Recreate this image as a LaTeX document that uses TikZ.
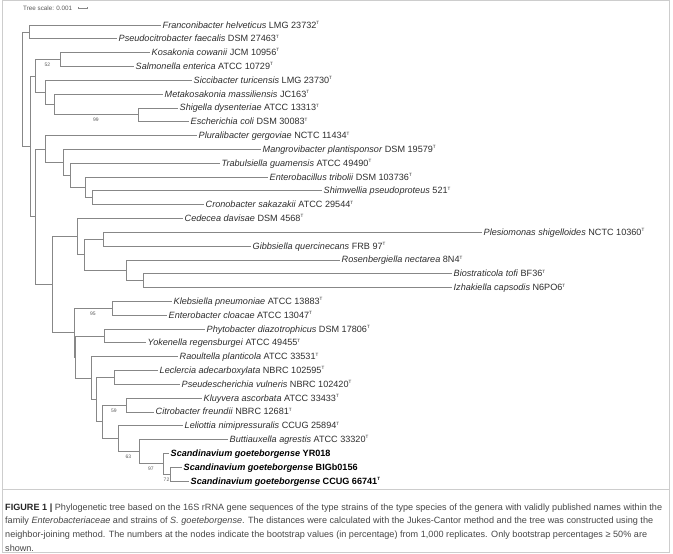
\documentclass[tikz,border=0pt]{standalone}
\usepackage{fontspec}
\setmainfont{Liberation Sans}
\newfontfamily\capfont{Liberation Sans}
\definecolor{treegray}{RGB}{135,135,135}
\definecolor{leafcol}{RGB}{45,45,45}
\definecolor{bscol}{RGB}{90,90,90}
\definecolor{framegray}{RGB}{205,205,205}
\definecolor{capcol}{RGB}{70,70,70}
\newcommand\lblfont{\fontsize{9.1}{10}\selectfont}
\newcommand\bsfont{\fontsize{5}{6}\selectfont}
\newcommand\capsize{\capfont\fontsize{9.1}{10}\selectfont}
\newcommand\tsup{\raisebox{3.6pt}{\fontsize{4.6}{5}\selectfont T}}
\newcommand\spn[2]{\textit{#1} #2}
\newcommand\bspn[2]{\textbf{\textit{#1} #2}}
\begin{document}
\begin{tikzpicture}[x=1pt,y=-1pt,
  br/.style={draw=treegray, line width=0.8pt},
  leaf/.style={anchor=west, inner xsep=1.5pt, inner ysep=0pt, text height=7pt, text depth=1pt, font=\lblfont, text=leafcol},
  bs/.style={font=\bsfont, text=bscol, inner sep=0pt},
  captext/.style={anchor=west, inner sep=0pt, font=\capsize, text=capcol},
  framebox/.style={draw=framegray, line width=0.8pt}]
\useasboundingbox (0,0) rectangle (673,554);
\draw[framebox] (2.5,0.8) rectangle (669.5,552.5);
\draw[framebox] (2.5,489) -- (669.5,489);

% tree scale
\node[anchor=west, inner sep=0pt, font=\fontsize{6.3}{7}\selectfont, text=bscol] (ts) at (23,8) {Tree scale: 0.001};
\coordinate (sb1) at (78,8);
\coordinate (sb2) at (87,8);
\draw[br, line width=0.5pt] (sb1) -- (sb2);
\draw[br, line width=0.5pt] ([yshift=-1.2pt]sb1) -- ([yshift=1.2pt]sb1);
\draw[br, line width=0.5pt] ([yshift=-1.2pt]sb2) -- ([yshift=1.2pt]sb2);

% internal nodes
\coordinate (root) at (22,89.15);
\coordinate (FP) at (29,31.9);
\coordinate (X) at (30,146.4);
\coordinate (A) at (35,75.97);
\coordinate (B) at (60,59.55);
\coordinate (C) at (45,92.4);
\coordinate (D) at (54,104.45);
\coordinate (E) at (138,114.8);
\coordinate (F) at (35,216.8);
\coordinate (G) at (45,148.97);
\coordinate (I) at (63,162.35);
\coordinate (J) at (70,175.3);
\coordinate (K) at (85,187.4);
\coordinate (L) at (92,197.75);
\coordinate (H) at (52,284.6);
\coordinate (M) at (77,236.6);
\coordinate (O) at (84,254.75);
\coordinate (P) at (103,239.2);
\coordinate (Q) at (126,270.3);
\coordinate (R) at (143,280.65);
\coordinate (N) at (74,332.65);
\coordinate (S) at (112,308.3);
\coordinate (Y) at (75.5,357);
\coordinate (T) at (104,335.9);
\coordinate (U) at (91,378.1);
\coordinate (V) at (96,399.6);
\coordinate (W) at (114,377.4);
\coordinate (Z) at (102,421.8);
\coordinate (a) at (126,405);
\coordinate (b) at (118,438.65);
\coordinate (c) at (139,451.6);
\coordinate (d) at (163,463.75);
\coordinate (e) at (170,474.1);

% leaves
\node[leaf] (l1) at (161,25.0) {\spn{Franconibacter helveticus}{LMG 23732\tsup}};
\node[leaf] (l2) at (117,38.8) {\spn{Pseudocitrobacter faecalis}{DSM 27463\tsup}};
\node[leaf] (l3) at (150,52.6) {\spn{Kosakonia cowanii}{JCM 10956\tsup}};
\node[leaf] (l4) at (134,66.5) {\spn{Salmonella enterica}{ATCC 10729\tsup}};
\node[leaf] (l5) at (192,80.3) {\spn{Siccibacter turicensis}{LMG 23730\tsup}};
\node[leaf] (l6) at (163,94.1) {\spn{Metakosakonia massiliensis}{JC163\tsup}};
\node[leaf] (l7) at (178,107.9) {\spn{Shigella dysenteriae}{ATCC 13313\tsup}};
\node[leaf] (l8) at (189,121.7) {\spn{Escherichia coli}{DSM 30083\tsup}};
\node[leaf] (l9) at (197,135.6) {\spn{Pluralibacter gergoviae}{NCTC 11434\tsup}};
\node[leaf] (l10) at (261,149.4) {\spn{Mangrovibacter plantisponsor}{DSM 19579\tsup}};
\node[leaf] (l11) at (220,163.2) {\spn{Trabulsiella guamensis}{ATCC 49490\tsup}};
\node[leaf] (l12) at (268,177.0) {\spn{Enterobacillus tribolii}{DSM 103736\tsup}};
\node[leaf] (l13) at (322,190.8) {\spn{Shimwellia pseudoproteus}{521\tsup}};
\node[leaf] (l14) at (204,204.7) {\spn{Cronobacter sakazakii}{ATCC 29544\tsup}};
\node[leaf] (l15) at (183,218.5) {\spn{Cedecea davisae}{DSM 4568\tsup}};
\node[leaf] (l16) at (482,232.3) {\spn{Plesiomonas shigelloides}{NCTC 10360\tsup}};
\node[leaf] (l17) at (251,246.1) {\spn{Gibbsiella quercinecans}{FRB 97\tsup}};
\node[leaf] (l18) at (340,259.9) {\spn{Rosenbergiella nectarea}{8N4\tsup}};
\node[leaf] (l19) at (452,273.7) {\spn{Biostraticola tofi}{BF36\tsup}};
\node[leaf] (l20) at (452,287.6) {\spn{Izhakiella capsodis}{N6PO6\tsup}};
\node[leaf] (l21) at (172,301.4) {\spn{Klebsiella pneumoniae}{ATCC 13883\tsup}};
\node[leaf] (l22) at (167,315.2) {\spn{Enterobacter cloacae}{ATCC 13047\tsup}};
\node[leaf] (l23) at (205,329.0) {\spn{Phytobacter diazotrophicus}{DSM 17806\tsup}};
\node[leaf] (l24) at (146,342.8) {\spn{Yokenella regensburgei}{ATCC 49455\tsup}};
\node[leaf] (l25) at (178,356.6) {\spn{Raoultella planticola}{ATCC 33531\tsup}};
\node[leaf] (l26) at (158,370.5) {\spn{Leclercia adecarboxylata}{NBRC 102595\tsup}};
\node[leaf] (l27) at (180,384.3) {\spn{Pseudescherichia vulneris}{NBRC 102420\tsup}};
\node[leaf] (l28) at (202,398.1) {\spn{Kluyvera ascorbata}{ATCC 33433\tsup}};
\node[leaf] (l29) at (154,411.9) {\spn{Citrobacter freundii}{NBRC 12681\tsup}};
\node[leaf] (l30) at (183,425.7) {\spn{Leliottia nimipressuralis}{CCUG 25894\tsup}};
\node[leaf] (l31) at (228,439.5) {\spn{Buttiauxella agrestis}{ATCC 33320\tsup}};
\node[leaf, text=black] (l32) at (169,453.4) {\bspn{Scandinavium goeteborgense}{YR018}};
\node[leaf, text=black] (l33) at (182,467.2) {\bspn{Scandinavium goeteborgense}{BIGb0156}};
\node[leaf, text=black] (l34) at (189,481.0) {\bspn{Scandinavium goeteborgense}{CCUG 66741\tsup}};

% branches
\draw[br] (root) |- (FP);
\draw[br] (root) |- (X);
\draw[br] (FP) |- (l1.west);
\draw[br] (FP) |- (l2.west);
\draw[br] (X) |- (A);
\draw[br] (X) |- (F);
\draw[br] (A) |- (B);
\draw[br] (A) |- (C);
\draw[br] (B) |- (l3.west);
\draw[br] (B) |- (l4.west);
\draw[br] (C) |- (l5.west);
\draw[br] (C) |- (D);
\draw[br] (D) |- (l6.west);
\draw[br] (D) |- (E);
\draw[br] (E) |- (l7.west);
\draw[br] (E) |- (l8.west);
\draw[br] (F) |- (G);
\draw[br] (F) |- (H);
\draw[br] (G) |- (l9.west);
\draw[br] (G) |- (I);
\draw[br] (I) |- (l10.west);
\draw[br] (I) |- (J);
\draw[br] (J) |- (l11.west);
\draw[br] (J) |- (K);
\draw[br] (K) |- (l12.west);
\draw[br] (K) |- (L);
\draw[br] (L) |- (l13.west);
\draw[br] (L) |- (l14.west);
\draw[br] (H) |- (M);
\draw[br] (H) |- (N);
\draw[br] (M) |- (l15.west);
\draw[br] (M) |- (O);
\draw[br] (O) |- (P);
\draw[br] (O) |- (Q);
\draw[br] (P) |- (l16.west);
\draw[br] (P) |- (l17.west);
\draw[br] (Q) |- (l18.west);
\draw[br] (Q) |- (R);
\draw[br] (R) |- (l19.west);
\draw[br] (R) |- (l20.west);
\draw[br] (N) |- (S);
\draw[br] (N) |- (Y);
\draw[br] (S) |- (l21.west);
\draw[br] (S) |- (l22.west);
\draw[br] (Y) |- (T);
\draw[br] (Y) |- (U);
\draw[br] (T) |- (l23.west);
\draw[br] (T) |- (l24.west);
\draw[br] (U) |- (l25.west);
\draw[br] (U) |- (V);
\draw[br] (V) |- (W);
\draw[br] (V) |- (Z);
\draw[br] (W) |- (l26.west);
\draw[br] (W) |- (l27.west);
\draw[br] (Z) |- (a);
\draw[br] (Z) |- (b);
\draw[br] (a) |- (l28.west);
\draw[br] (a) |- (l29.west);
\draw[br] (b) |- (l30.west);
\draw[br] (b) |- (c);
\draw[br] (c) |- (l31.west);
\draw[br] (c) |- (d);
\draw[br] (d) |- (l32.west);
\draw[br] (d) |- (e);
\draw[br] (e) |- (l33.west);
\draw[br] (e) |- (l34.west);

% bootstrap values
\node[bs] (bs52) at (47.5,64.8) {52};
\node[bs] (bs99) at (96,120.1) {99};
\node[bs] (bs95) at (93,313.6) {95};
\node[bs] (bs59) at (114,410.3) {59};
\node[bs] (bs63) at (128.5,456.9) {63};
\node[bs] (bs97) at (151,469.0) {97};
\node[bs] (bs72) at (166.5,479.4) {72};

% caption
\node[captext] (c1) at (5,508) {\makebox[657pt][s]{\textbf{\color{black!85}FIGURE 1 |} Phylogenetic tree based on the 16S rRNA gene sequences of the type strains of the type species of the genera with validly published names within the}};
\node[captext] (c2) at (5,521.5) {\makebox[648pt][s]{family \textit{Enterobacteriaceae} and strains of \textit{S. goeteborgense}. The distances were calculated with the Jukes-Cantor method and the tree was constructed using the}};
\node[captext] (c3) at (5,535) {\makebox[642pt][s]{neighbor-joining method. The numbers at the nodes indicate the bootstrap values (in percentage) from 1,000 replicates. Only bootstrap percentages ≥ 50\% are}};
\node[captext] (c4) at (5,548) {shown.};
\end{tikzpicture}
\end{document}
